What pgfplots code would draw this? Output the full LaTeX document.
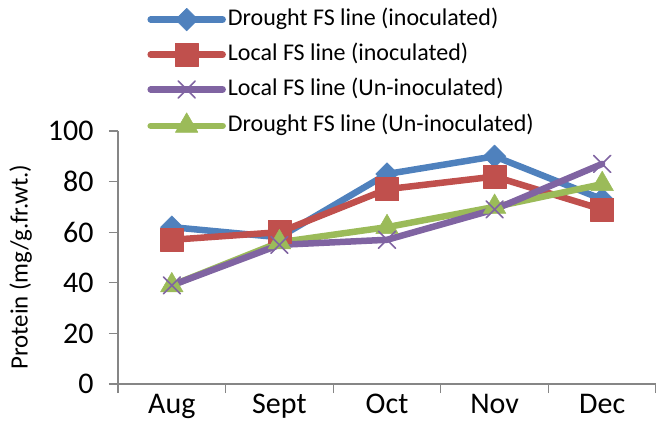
\documentclass[border=0pt]{standalone}
\usepackage{fontspec}
\setmainfont{Carlito}
\usepackage{pgfplots}
\usepackage{pgfplotstable}
\pgfplotsset{compat=1.18}

\definecolor{sBlue}{HTML}{4F81BD}
\definecolor{sRed}{HTML}{C0504D}
\definecolor{sPurple}{HTML}{8064A2}
\definecolor{sGreen}{HTML}{9BBB59}
\definecolor{axisgray}{HTML}{868686}

% protein content per month (mg/g fr. wt.)
\pgfplotstableread{
idx droughtInoc localInoc localUn droughtUn
0   62          57        39      39
1   58          60        55      56
2   83          77        57      62
3   90          82        69      70
4   73          69        87      79
}\protein

\begin{document}
\begin{tikzpicture}[x=1bp,y=1bp]
\begin{axis}[
  at={(118bp,39bp)}, anchor=south west,
  scale only axis, width=538bp, height=253bp,
  xmin=-0.5, xmax=4.5, ymin=0, ymax=100,
  axis x line=bottom, axis y line=left,
  axis line style={-, draw=axisgray, line width=1.2bp},
  ytick={0,20,...,100},
  xtick={-0.5,0.5,...,4.5}, xticklabels={},
  extra x ticks={0,1,2,3,4},
  extra x tick labels={Aug,Sept,Oct,Nov,Dec},
  extra x tick style={major tick length=0pt,
    tick label style={yshift=-7bp}},
  tick align=outside, major tick length=9bp,
  tick style={draw=axisgray, line width=1.2bp},
  tick label style={font=\fontsize{30bp}{35bp}\selectfont},
  yticklabel style={xshift=-12bp},
  /pgf/number format/assume math mode=true,
  ylabel={Protein (mg/g.fr.wt.)},
  ylabel style={at={(axis description cs:-0.181,0.462)}, anchor=center,
    font=\fontsize{24.9bp}{29bp}\selectfont},
  legend style={at={(axis description cs:0.0543,1.486)}, anchor=north west,
    draw=none, fill=none, font=\fontsize{24bp}{28bp}\selectfont,
    row sep=12.3bp, inner sep=0pt,
    nodes={inner ysep=0pt, inner xsep=2bp, text height=17bp, text depth=5bp}},
  legend cell align=left,
  legend image code/.code={%
    \draw[mark repeat=2,mark phase=2,#1]
      plot coordinates {(0bp,0bp) (36bp,0bp) (72bp,0bp)};},
  every axis plot/.append style={line width=6.5bp, line join=round, line cap=round},
]
\addplot[sBlue, mark=square*, mark size=8bp,
  mark options={rotate=45, line width=0.5bp, fill=sBlue}]
  table[x=idx, y=droughtInoc] {\protein};
\addlegendentry{Drought FS line (inoculated)}
\addplot[sRed, mark=square*, mark size=11.5bp,
  mark options={line width=0.5bp, fill=sRed}]
  table[x=idx, y=localInoc] {\protein};
\addlegendentry{Local FS line (inoculated)}
\addplot[sGreen, mark=triangle*, mark size=13bp,
  mark options={line width=0.5bp, fill=sGreen}, forget plot]
  table[x=idx, y=droughtUn] {\protein};
\addplot[sPurple, mark=x, mark size=12bp,
  mark options={line width=1.6bp}]
  table[x=idx, y=localUn] {\protein};
\addlegendentry{Local FS line (Un-inoculated)}
\addlegendimage{sGreen, line width=6.5bp, line cap=round, mark=triangle*, mark size=13bp,
  mark options={line width=0.5bp, fill=sGreen}}
\addlegendentry{Drought FS line (Un-inoculated)}
\end{axis}
\pgfresetboundingbox
\path[use as bounding box] (0,0) rectangle (656,423);
\end{tikzpicture}
\end{document}
